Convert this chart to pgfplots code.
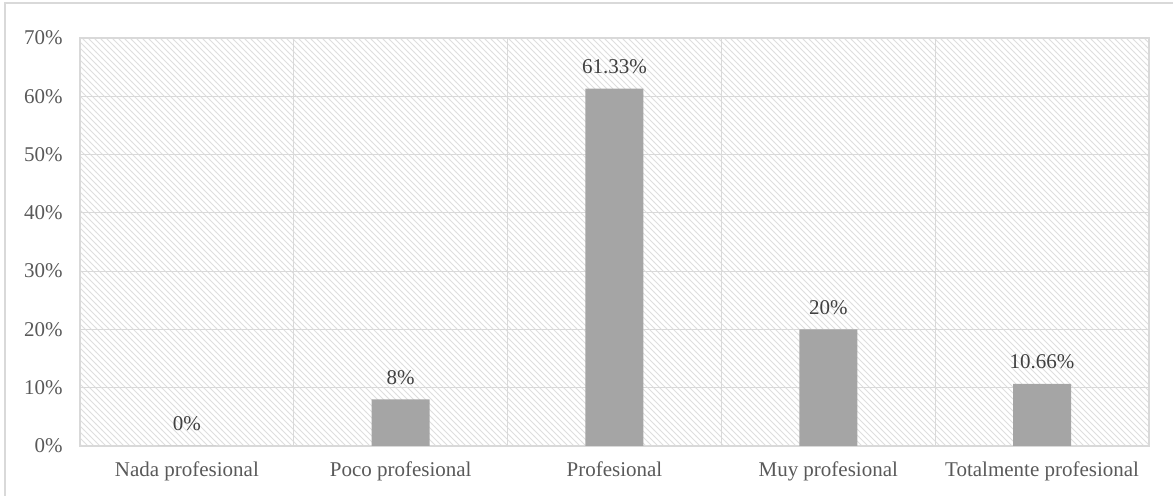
\documentclass[border=0pt]{standalone}
\usepackage{fontspec}
\setmainfont{Liberation Serif}
\usepackage{pgfplots}
\pgfplotsset{compat=1.18}
\usetikzlibrary{patterns}
\definecolor{gridc}{HTML}{D9D9D9}
\definecolor{barc}{HTML}{A5A5A5}
\definecolor{tickc}{HTML}{595959}
\definecolor{labc}{HTML}{404040}
\begin{document}
\fontsize{10.5}{12.6}\selectfont
\begin{tikzpicture}
\useasboundingbox (-40pt,-25pt) rectangle (546.5pt,223pt);
\draw[gridc,line width=0.6pt] (-37.5pt,-30pt) -- (-37.5pt,221.5pt) -- (560pt,221.5pt);
\begin{axis}[
  scale only axis=true,
  width=534.5pt, height=204pt,
  at={(0pt,0pt)}, anchor=south west,
  xmin=-0.5, xmax=4.5, ymin=0, ymax=70,
  ytick={0,10,...,70},
  xtick={0,1,2,3,4},
  xticklabels={Nada profesional, Poco profesional, Profesional, Muy profesional, Totalmente profesional},
  minor xtick={0.5,1.5,2.5,3.5},
  xminorgrids=true, ymajorgrids=true,
  major grid style={gridc, line width=0.6pt},
  minor grid style={gridc, line width=0.6pt},
  axis line style={gridc, line width=0.6pt},
  major tick length=0pt, minor tick length=0pt,
  tick style={draw=none},
  /pgf/number format/assume math mode=true,
  yticklabel={\pgfmathprintnumber{\tick}\%},
  yticklabel style={font=\fontsize{10.5}{12.6}\selectfont, text=tickc, xshift=-5pt},
  xticklabel style={font=\fontsize{10.5}{12.6}\selectfont, text=tickc, yshift=-4pt},
  axis background/.style={pattern=north west lines, pattern color=black!13},
  ybar, bar width=29pt,
  point meta=explicit symbolic,
  nodes near coords,
  every node near coord/.append style={font=\fontsize{10.5}{12.6}\selectfont, text=labc, anchor=center, yshift=11pt},
]
\addplot[fill=barc, draw=none] coordinates {
  (0,0) [0\%]
  (1,8) [8\%]
  (2,61.33) [61.33\%]
  (3,20) [20\%]
  (4,10.66) [10.66\%]
};
\end{axis}
\end{tikzpicture}
\end{document}
